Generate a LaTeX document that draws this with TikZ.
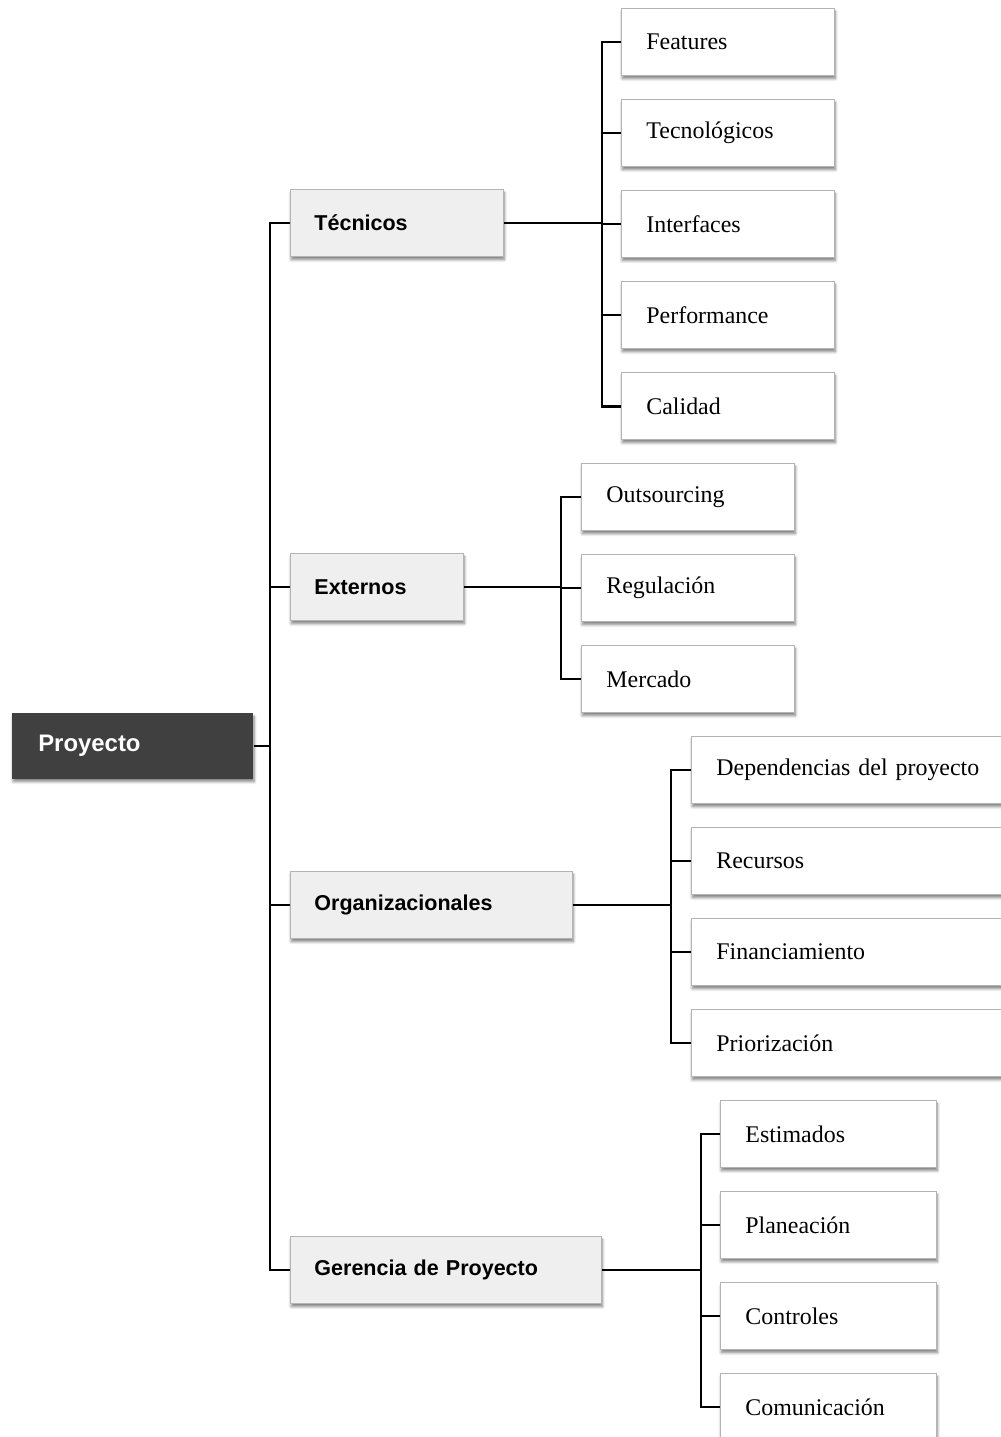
\documentclass[tikz,border=0pt]{standalone}
\usepackage{fontspec}
\setmainfont{Liberation Serif}
\newfontfamily\headfont{Liberation Sans}
\usetikzlibrary{shadows.blur}
\definecolor{rootgray}{HTML}{404040}
\definecolor{topicgray}{HTML}{EFEFEF}
\definecolor{edgegray}{HTML}{B4B4B4}
\tikzstyle{boxshadow} = [blur shadow={shadow xshift=0.6pt, shadow yshift=-2.2pt, shadow blur steps=6, shadow blur radius=2pt, shadow opacity=50}]
\tikzstyle{root} = [rectangle, minimum height=1.625cm, text width=4.725cm, inner xsep=0.65cm, align=left, fill=rootgray, text=white, font=\headfont\bfseries\fontsize{17}{20}\selectfont, boxshadow]
\tikzstyle{topic} = [rectangle, minimum height=1.675cm, inner xsep=0.6cm, align=left, draw=edgegray, line width=0.6pt, fill=topicgray, font=\headfont\bfseries\fontsize{15.3}{18}\selectfont, boxshadow]
\tikzstyle{leaf} = [rectangle, minimum height=1.675cm, text width=4.075cm, inner xsep=0.625cm, align=left, draw=edgegray, line width=0.6pt, fill=white, font=\fontsize{17}{20}\selectfont, boxshadow]
\tikzstyle{leafwide} = [leaf, text width=8cm]
\tikzstyle{link} = [line width=2pt]

\begin{document}
\begin{tikzpicture}[x=0.025cm, y=-0.025cm, node distance=2.275cm]
\useasboundingbox (0,0) rectangle (1000,1437);

\node (proy)[root, anchor=west] at (12,746) {Proyecto};
\coordinate (trunk) at (270,746);
\draw [link](proy.east) -- (trunk);

% tecnicos
\node (tec)[topic, anchor=west, text width=4.125cm] at (290,223) {Técnicos};
\draw [link](trunk) |- (tec.west);
\coordinate (tecbus) at (602,223);
\node (feat)[leaf, anchor=west] at (621,42) {Features};
\node (tecno)[leaf, below of=feat]{Tecnológicos};
\node (inter)[leaf, below of=tecno]{Interfaces};
\node (perf)[leaf, below of=inter]{Performance};
\node (cal)[leaf, below of=perf]{Calidad};
\draw [link](tec.east) -- (tecbus) |- (feat.west);
\draw [link](tec.east) -- (tecbus) |- (tecno.west);
\draw [link](tec.east) -- (tecbus) |- (inter.west);
\draw [link](tec.east) -- (tecbus) |- (perf.west);
\draw [link](tec.east) -- (tecbus) |- (cal.west);

% externos
\node (ext)[topic, anchor=west, text width=3.125cm] at (290,587) {Externos};
\draw [link](trunk) |- (ext.west);
\coordinate (extbus) at (561,587);
\node (outs)[leaf, anchor=west] at (581,497) {Outsourcing};
\node (regu)[leaf, below of=outs]{Regulación};
\node (merc)[leaf, below of=regu]{Mercado};
\draw [link](ext.east) -- (extbus) |- (outs.west);
\draw [link](ext.east) -- (extbus) |- (regu.west);
\draw [link](ext.east) -- (extbus) |- (merc.west);

% organizacionales
\node (org)[topic, anchor=west, text width=5.85cm] at (290,905) {Organizacionales};
\draw [link](trunk) |- (org.west);
\coordinate (orgbus) at (671,905);
\node (dep)[leafwide, anchor=west] at (691,770) {Dependencias del proyecto};
\node (recu)[leafwide, below of=dep]{Recursos};
\node (fin)[leafwide, below of=recu]{Financiamiento};
\node (prio)[leafwide, below of=fin]{Priorización};
\draw [link](org.east) -- (orgbus) |- (dep.west);
\draw [link](org.east) -- (orgbus) |- (recu.west);
\draw [link](org.east) -- (orgbus) |- (fin.west);
\draw [link](org.east) -- (orgbus) |- (prio.west);

% gerencia
\node (ger)[topic, anchor=west, text width=6.575cm] at (290,1270) {Gerencia de Proyecto};
\draw [link](trunk) |- (ger.west);
\coordinate (gerbus) at (701,1270);
\node (esti)[leaf, anchor=west, text width=4.15cm] at (720,1134) {Estimados};
\node (plan)[leaf, below of=esti, text width=4.15cm]{Planeación};
\node (ctrl)[leaf, below of=plan, text width=4.15cm]{Controles};
\node (comu)[leaf, below of=ctrl, text width=4.15cm]{Comunicación};
\draw [link](ger.east) -- (gerbus) |- (esti.west);
\draw [link](ger.east) -- (gerbus) |- (plan.west);
\draw [link](ger.east) -- (gerbus) |- (ctrl.west);
\draw [link](ger.east) -- (gerbus) |- (comu.west);
\end{tikzpicture}
\end{document}
